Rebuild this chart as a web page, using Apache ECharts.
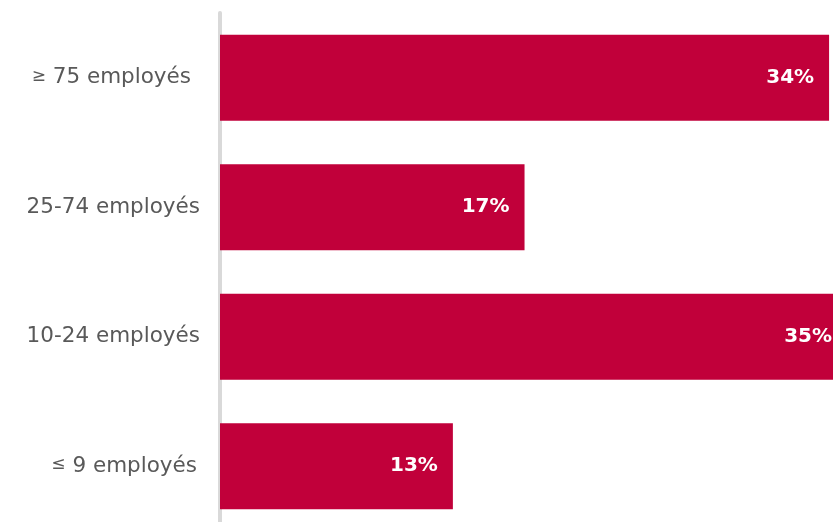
<!DOCTYPE html>
<html>
<head>
<meta charset="utf-8">
<script src="https://cdn.jsdelivr.net/npm/echarts@6/dist/echarts.min.js"></script>
<style>
  html, body { margin: 0; padding: 0; background: #ffffff; }
  #chart { width: 833px; height: 522px; }
</style>
</head>
<body>
<div id="chart"></div>
<script>
// Share of companies by workforce size (top to bottom as listed)
const categories = ['≥ 75 employés', '25-74 employés', '10-24 employés', '≤ 9 employés'];
const shares = [34, 17, 35, 13];

const chart = echarts.init(document.getElementById('chart'));

chart.setOption({
  animation: false,
  // The plot runs a little past the right and bottom edges of the canvas
  grid: { left: 220, top: 13, width: 627, height: 518, containLabel: false, outerBoundsMode: 'none' },
  xAxis: {
    type: 'value',
    min: 0,
    max: 35,
    show: false
  },
  yAxis: {
    type: 'category',
    inverse: true,
    data: categories,
    axisLine: { show: true, lineStyle: { color: '#d9d9d9', width: 4 } },
    axisTick: { show: false },
    axisLabel: {
      margin: 20,
      color: '#595959',
      formatter: function (v) {
        const first = v.charAt(0);
        if (first === '≥') {
          return '{sym|' + first + '}{txtWide|' + v.slice(1) + '}';
        }
        if (first === '≤') {
          return '{sym|' + first + '}{txtMid|' + v.slice(1) + '}';
        }
        return '{txt|' + v + '}';
      },
      rich: {
        sym: { fontFamily: 'DejaVu Sans', fontSize: 17, color: '#595959', padding: [0, 0, 3, 0] },
        txt: { fontFamily: 'DejaVu Sans', fontSize: 21.5, color: '#595959' },
        txtWide: { fontFamily: 'DejaVu Sans', fontSize: 21.5, color: '#595959', padding: [0, 9, 0, 0] },
        txtMid: { fontFamily: 'DejaVu Sans', fontSize: 21.5, color: '#595959', padding: [0, 3, 0, 0] }
      }
    }
  },
  series: [{
    type: 'bar',
    data: shares,
    barWidth: 86,
    itemStyle: { color: '#c1003a' },
    label: {
      show: true,
      position: 'insideRight',
      distance: 15,
      formatter: '{c}%',
      color: '#ffffff',
      fontFamily: 'DejaVu Sans',
      fontWeight: 'bold',
      fontSize: 20
    }
  }]
});
</script>
</body>
</html>
